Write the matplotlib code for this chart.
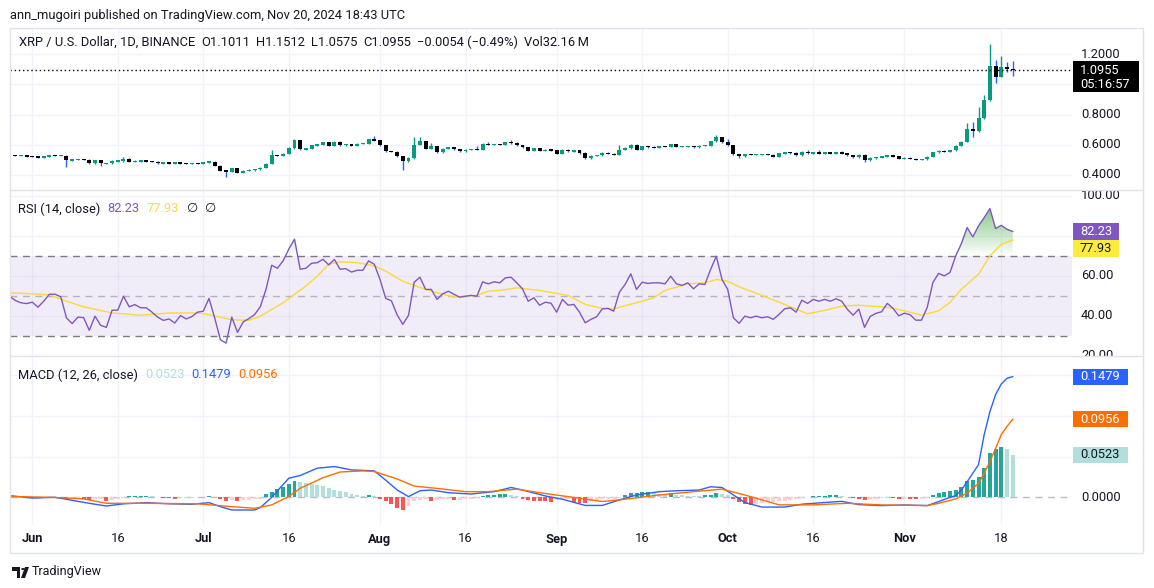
import numpy as np
import pandas as pd
import matplotlib
matplotlib.use('Agg')
import matplotlib.pyplot as plt
import matplotlib.dates as mdates
from matplotlib.patches import Rectangle, Polygon, Circle
from matplotlib.path import Path

plt.rcParams['font.family'] = ['Roboto', 'DejaVu Sans']

W, H = 1154, 588
FS = 9.3

# =========================== DATA (daily, 2024-05-28 .. 2024-11-20) ===========================
close_may = [0.528, 0.527, 0.527, 0.522]
close_jun = [0.520, 0.518, 0.522, 0.529, 0.527, 0.527, 0.496, 0.500, 0.501, 0.500,
             0.478, 0.496, 0.478, 0.478, 0.493, 0.493, 0.507, 0.489, 0.493, 0.493,
             0.490, 0.487, 0.478, 0.479, 0.478, 0.479, 0.478, 0.477, 0.478, 0.477]
close_jul = [0.484, 0.487, 0.462, 0.429, 0.422, 0.444, 0.416, 0.429, 0.433, 0.438,
             0.449, 0.476, 0.529, 0.527, 0.540, 0.578, 0.629, 0.571, 0.573, 0.596,
             0.600, 0.616, 0.593, 0.620, 0.596, 0.604, 0.593, 0.607, 0.608, 0.636, 0.629]
close_aug = [0.596, 0.556, 0.553, 0.523, 0.490, 0.512, 0.600, 0.622, 0.574, 0.589,
             0.550, 0.574, 0.582, 0.571, 0.556, 0.567, 0.569, 0.567, 0.607, 0.600,
             0.604, 0.600, 0.615, 0.611, 0.596, 0.582, 0.560, 0.576, 0.560, 0.567, 0.563]
close_sep = [0.540, 0.567, 0.556, 0.563, 0.545, 0.512, 0.527, 0.530, 0.545, 0.540,
             0.534, 0.567, 0.578, 0.600, 0.567, 0.589, 0.585, 0.582, 0.589, 0.587,
             0.604, 0.587, 0.587, 0.591, 0.585, 0.593, 0.593, 0.622, 0.648, 0.615]
close_oct = [0.596, 0.538, 0.523, 0.536, 0.534, 0.536, 0.536, 0.533, 0.522, 0.544,
             0.548, 0.546, 0.529, 0.553, 0.544, 0.547, 0.544, 0.549, 0.544, 0.549,
             0.544, 0.529, 0.518, 0.533, 0.496, 0.513, 0.518, 0.520, 0.529, 0.524, 0.507]
close_nov = [0.513, 0.507, 0.500, 0.503, 0.520, 0.549, 0.560, 0.553, 0.562, 0.593,
             0.619, 0.705, 0.690, 0.775, 0.896, 1.120, 1.050, 1.116, 1.1011, 1.0955]
first_open = 0.529

# notable wicks
wick_hi = {'2024-06-17': 0.518, '2024-07-13': 0.567, '2024-07-17': 0.640, '2024-07-31': 0.660,
           '2024-08-07': 0.648, '2024-08-08': 0.648, '2024-08-10': 0.611, '2024-08-18': 0.589,
           '2024-08-20': 0.617, '2024-08-24': 0.633, '2024-09-12': 0.596, '2024-09-29': 0.666,
           '2024-10-01': 0.640, '2024-10-15': 0.562, '2024-10-17': 0.567, '2024-10-21': 0.560,
           '2024-11-12': 0.742, '2024-11-13': 0.753, '2024-11-14': 0.848, '2024-11-15': 0.929,
           '2024-11-16': 1.266, '2024-11-17': 1.160, '2024-11-18': 1.187, '2024-11-19': 1.147,
           '2024-11-20': 1.1512}
wick_lo = {'2024-06-07': 0.456, '2024-06-13': 0.462, '2024-07-05': 0.384, '2024-07-07': 0.411,
           '2024-07-18': 0.562, '2024-08-05': 0.435, '2024-10-03': 0.512, '2024-10-25': 0.489,
           '2024-11-13': 0.648, '2024-11-17': 1.006, '2024-11-19': 1.080, '2024-11-20': 1.0575}

rsi_may = [49.8, 47.7, 46.5, 46.1]
rsi_jun = [46.8, 44.3, 47.3, 50.8, 50.8, 49.5, 38.9, 36.1, 39.3, 39.1,
           32.7, 39.8, 35.2, 34.2, 42.8, 42.8, 49.8, 44.5, 45.6, 44.0,
           44.0, 41.8, 39.3, 37.7, 38.4, 36.4, 40.1, 38.4, 39.6, 41.8]
rsi_jul = [42.3, 48.7, 38.9, 28.0, 26.3, 39.3, 31.7, 36.9, 38.6, 40.6,
           44.5, 53.2, 65.3, 63.8, 67.5, 73.4, 78.4, 63.3, 63.8, 66.3,
           66.6, 68.3, 65.5, 68.2, 63.3, 63.6, 61.9, 62.8, 62.8, 67.5, 65.8]
rsi_aug = [58.2, 48.7, 47.5, 40.5, 35.7, 40.2, 56.8, 59.3, 53.2, 53.2,
           48.2, 51.0, 52.3, 50.7, 49.3, 49.8, 50.2, 49.8, 57.0, 56.0,
           57.0, 56.5, 59.0, 59.3, 56.5, 53.5, 47.3, 49.0, 45.3, 46.8, 46.3]
rsi_sep = [41.8, 48.2, 45.3, 45.7, 41.8, 36.5, 38.2, 39.5, 43.5, 43.7,
           42.3, 51.8, 55.7, 61.0, 53.2, 56.8, 56.2, 56.5, 56.5, 56.0,
           59.8, 56.0, 55.2, 56.5, 53.5, 56.0, 55.7, 63.2, 69.8, 58.2]
rsi_oct = [53.2, 39.0, 36.2, 39.8, 39.0, 39.8, 39.0, 39.5, 38.2, 40.7,
           43.5, 44.0, 41.8, 47.8, 46.2, 48.2, 47.3, 48.2, 47.3, 48.5,
           47.3, 43.2, 40.3, 43.3, 34.2, 39.7, 41.2, 42.0, 46.2, 43.7, 40.0]
rsi_nov = [41.3, 40.5, 37.8, 37.8, 44.2, 56.7, 61.2, 60.0, 61.7, 70.0,
           76.2, 84.2, 79.5, 85.0, 89.2, 93.7, 83.7, 85.3, 83.3, 82.23]

rsi_ma_days = ['2024-05-28', '2024-06-01', '2024-06-04', '2024-06-07', '2024-06-10', '2024-06-15',
               '2024-06-20', '2024-06-25', '2024-06-30', '2024-07-02', '2024-07-06', '2024-07-09',
               '2024-07-11', '2024-07-15', '2024-07-19', '2024-07-21', '2024-07-23', '2024-07-25',
               '2024-07-28', '2024-07-31', '2024-08-02', '2024-08-05', '2024-08-07', '2024-08-10',
               '2024-08-14', '2024-08-18', '2024-08-20', '2024-08-22', '2024-08-25', '2024-08-29',
               '2024-09-03', '2024-09-06', '2024-09-09', '2024-09-11', '2024-09-16', '2024-09-18',
               '2024-09-20', '2024-09-24', '2024-09-27', '2024-09-29', '2024-10-01', '2024-10-03',
               '2024-10-07', '2024-10-12', '2024-10-15', '2024-10-18', '2024-10-21', '2024-10-24',
               '2024-10-29', '2024-11-01', '2024-11-04', '2024-11-07', '2024-11-09', '2024-11-11',
               '2024-11-14', '2024-11-16', '2024-11-18', '2024-11-20']
rsi_ma_vals = [51.5, 51.0, 50.5, 47.3, 44.5, 41.4, 40.3, 41.4, 41.4, 40.6, 38.0, 37.7,
               39.8, 46.5, 54.9, 59.9, 65.8, 67.0, 66.6, 65.0, 62.4, 57.3, 55.2, 52.3,
               49.3, 50.2, 52.3, 52.7, 54.0, 52.7, 50.2, 45.7, 43.7, 43.5, 47.3, 49.0,
               52.7, 56.0, 56.5, 58.2, 57.3, 54.5, 50.2, 44.5, 41.0, 42.7, 44.8, 45.3,
               44.2, 42.5, 40.3, 42.5, 46.7, 53.3, 60.8, 70.0, 75.8, 77.93]

macd_days = ['2024-05-28', '2024-06-01', '2024-06-05', '2024-06-09', '2024-06-11', '2024-06-14',
             '2024-06-17', '2024-06-21', '2024-06-25', '2024-06-29', '2024-07-02', '2024-07-04',
             '2024-07-06', '2024-07-10', '2024-07-11', '2024-07-13', '2024-07-16', '2024-07-18',
             '2024-07-21', '2024-07-24', '2024-07-27', '2024-07-31', '2024-08-02', '2024-08-04',
             '2024-08-06', '2024-08-08', '2024-08-10', '2024-08-13', '2024-08-17', '2024-08-21',
             '2024-08-24', '2024-08-26', '2024-08-30', '2024-09-02', '2024-09-06', '2024-09-09',
             '2024-09-12', '2024-09-15', '2024-09-19', '2024-09-22', '2024-09-26', '2024-09-28',
             '2024-09-30', '2024-10-02', '2024-10-04', '2024-10-07', '2024-10-11', '2024-10-14',
             '2024-10-18', '2024-10-21', '2024-10-24', '2024-10-28', '2024-11-01', '2024-11-05',
             '2024-11-07', '2024-11-09', '2024-11-10', '2024-11-11', '2024-11-12', '2024-11-13',
             '2024-11-14', '2024-11-15', '2024-11-16', '2024-11-17', '2024-11-18', '2024-11-19',
             '2024-11-20']
macd_vals = [0.002, -0.001, 0.0, -0.005, -0.0074, -0.0107, -0.008, -0.0066, -0.008, -0.0086,
             -0.0066, -0.0115, -0.0156, -0.0156, -0.0127, 0.0, 0.0234, 0.0267, 0.0357, 0.0377,
             0.0336, 0.0324, 0.021, 0.009, 0.0008, 0.008, 0.0089, 0.0056, 0.004, 0.0069,
             0.012, 0.0089, 0.0016, -0.0024, -0.010, -0.010, -0.0032, 0.0028, 0.0069, 0.008,
             0.0089, 0.0129, 0.012, 0.0028, -0.0064, -0.012, -0.012, -0.0085, -0.0064, -0.005,
             -0.009, -0.0102, -0.0094, -0.0102, -0.0053, 0.0, 0.002, 0.009, 0.019, 0.0295,
             0.040, 0.077, 0.105, 0.126, 0.139, 0.146, 0.1479]

signal_days = ['2024-05-28', '2024-06-04', '2024-06-10', '2024-06-14', '2024-06-21', '2024-06-30',
               '2024-07-06', '2024-07-10', '2024-07-13', '2024-07-16', '2024-07-18', '2024-07-22',
               '2024-07-25', '2024-07-29', '2024-07-31', '2024-08-04', '2024-08-07', '2024-08-11',
               '2024-08-16', '2024-08-20', '2024-08-25', '2024-08-29', '2024-09-03', '2024-09-09',
               '2024-09-13', '2024-09-19', '2024-09-25', '2024-09-30', '2024-10-04', '2024-10-10',
               '2024-10-16', '2024-10-22', '2024-10-28', '2024-11-05', '2024-11-07', '2024-11-10',
               '2024-11-12', '2024-11-14', '2024-11-15', '2024-11-16', '2024-11-17', '2024-11-18',
               '2024-11-19', '2024-11-20']
signal_vals = [0.001, 0.0, -0.002, -0.0074, -0.0074, -0.008, -0.0115, -0.0135, -0.0094, 0.001,
               0.011, 0.024, 0.031, 0.0324, 0.0316, 0.0225, 0.0137, 0.0109, 0.0069, 0.0069,
               0.010, 0.0056, 0.0008, -0.0052, -0.0024, 0.0028, 0.0069, 0.010, 0.0028, -0.0093,
               -0.0093, -0.0074, -0.0094, -0.0102, -0.0074, -0.002, 0.005, 0.017, 0.0295, 0.044,
               0.060, 0.077, 0.087, 0.0956]

hist_may = [0.0005, 0.0004, 0.0002, -0.0002]
hist_jun = [-0.0004, 0.0002, 0.0004, 0.0004, 0.0002, -0.0003, -0.002, -0.002, -0.002, -0.0025,
            -0.003, -0.0025, -0.002, -0.004, -0.003, -0.002, -0.0005, 0.001, 0.0012, 0.0013,
            0.0014, 0.001, 0.0005, -0.0008, -0.0012, -0.0015, -0.0008, -0.0005, -0.0003, 0.0003]
hist_jul = [0.0008, 0.001, 0.0005, -0.0016, -0.004, -0.003, -0.004, -0.003, -0.0028, -0.0025,
            -0.002, 0.0037, 0.007, 0.0098, 0.012, 0.016, 0.020, 0.019, 0.017, 0.016,
            0.015, 0.014, 0.011, 0.009, 0.0078, 0.006, 0.0037, 0.003, 0.002, 0.0025, 0.001]
hist_aug = [-0.002, -0.0045, -0.0086, -0.013, -0.016, -0.0105, -0.0044, -0.0032, -0.0024, -0.0044,
            -0.0032, -0.0024, -0.002, -0.0032, -0.0028, -0.0024, -0.0016, -0.0004, 0.0016, 0.0028,
            0.003, 0.004, 0.0042, 0.0028, 0.0016, -0.0016, -0.0032, -0.004, -0.0042, -0.0044, -0.0052]
hist_sep = [-0.0032, -0.0024, -0.0022, -0.0064, -0.0066, -0.0068, -0.004, -0.0032, -0.0024, -0.002,
            -0.0016, -0.0008, 0.0028, 0.0048, 0.0056, 0.0064, 0.0066, 0.0048, 0.004, 0.0028,
            0.0048, 0.0032, 0.0024, 0.002, 0.0016, 0.0014, 0.0024, 0.0032, 0.0048, 0.004]
hist_oct = [0.0024, -0.0024, -0.0052, -0.008, -0.0093, -0.008, -0.0072, -0.0064, -0.0052, -0.0048,
            -0.0044, -0.0032, -0.0016, -0.0012, 0.0008, 0.0016, 0.002, 0.0021, 0.0022, 0.0024,
            0.0016, 0.0008, -0.001, -0.0015, -0.003, -0.002, -0.0015, -0.001, -0.0005, -0.001, -0.0018]
hist_nov = [-0.0015, -0.0018, -0.0022, -0.0015, -0.0005, 0.003, 0.0057, 0.007, 0.0078, 0.0094,
            0.0127, 0.020, 0.0213, 0.0254, 0.0357, 0.054, 0.059, 0.062, 0.059, 0.0523]

tick_days = ['2024-06-01', '2024-06-16', '2024-07-01', '2024-07-16', '2024-08-01', '2024-08-16',
             '2024-09-01', '2024-09-16', '2024-10-01', '2024-10-16', '2024-11-01', '2024-11-18']
tick_labels = ['Jun', '16', 'Jul', '16', 'Aug', '16', 'Sep', '16', 'Oct', '16', 'Nov', '18']

# grid levels; labels only where the right scale is not covered by a value tag
price_ticks = [0.4, 0.6, 0.8, 1.0, 1.2]
price_labels = [0.4, 0.6, 0.8, 1.2]
rsi_ticks = [20, 40, 60, 80, 100]
rsi_labels = [20, 40, 60, 100]
macd_ticks = [0.05, 0.10, 0.15]
macd_labels = [0.0]

# =========================== PREP ===========================
dates = pd.date_range('2024-05-28', '2024-11-20', freq='D')
xd = mdates.date2num(dates)
close = np.array(close_may + close_jun + close_jul + close_aug + close_sep + close_oct + close_nov)
opens = np.concatenate([[first_open], close[:-1]])
rsi = np.array(rsi_may + rsi_jun + rsi_jul + rsi_aug + rsi_sep + rsi_oct + rsi_nov)
hist = np.array(hist_may + hist_jun + hist_jul + hist_aug + hist_sep + hist_oct + hist_nov)

keys = dates.strftime('%Y-%m-%d')
highs = np.array([wick_hi.get(k, max(o, c) + 0.004) for k, o, c in zip(keys, opens, close)])
lows = np.array([wick_lo.get(k, min(o, c) - 0.004) for k, o, c in zip(keys, opens, close)])

UP, DOWN, DWICK = '#089981', '#000000', '#2962ff'
GRID, FRAME, TXT = '#f0f3fa', '#e0e3eb', '#131722'

# =========================== FIGURE ===========================
fig = plt.figure(figsize=(W / 100, H / 100), dpi=100)
fig.patch.set_facecolor('white')
renderer = fig.canvas.get_renderer()


def pane(x0, y0, x1, y1):
    ax = fig.add_axes([x0 / W, 1 - y1 / H, (x1 - x0) / W, (y1 - y0) / H])
    ax.set_axis_off()
    return ax


ax_p = pane(10, 28, 1072, 190)
ax_r = pane(10, 190, 1072, 356)
ax_m = pane(10, 356, 1072, 525)
lab_p = pane(1072, 28, 1143, 190)
lab_r = pane(1072, 190, 1143, 356)
lab_m = pane(1072, 356, 1143, 525)

x_jun1 = mdates.date2num(pd.Timestamp('2024-06-01'))
xlim = (x_jun1 - 3.91, x_jun1 + 182.4)
ylims = {ax_p: (0.3008, 1.372), ax_r: (19.85, 103.0), ax_m: (-0.034, 0.1733)}
for ax, lab in ((ax_p, lab_p), (ax_r, lab_r), (ax_m, lab_m)):
    ax.set_xlim(xlim)
    ax.set_ylim(ylims[ax])
    lab.set_xlim(0, 1)
    lab.set_ylim(ylims[ax])
    for t in tick_days:
        ax.axvline(mdates.date2num(pd.Timestamp(t)), color=GRID, lw=1, zorder=0)

# ---------- price pane ----------
for v in price_ticks:
    ax_p.axhline(v, color=GRID, lw=1, zorder=0)
for v in price_labels:
    lab_p.text(0.127, v, f'{v:.4f}', fontsize=FS, color=TXT, va='center', clip_on=True)

up = close >= opens
body_lo = np.minimum(opens, close)
body_h = np.abs(close - opens)
min_h = 0.009
body_lo = np.where(body_h < min_h, (opens + close) / 2 - min_h / 2, body_lo)
body_h = np.maximum(body_h, min_h)
ax_p.vlines(xd, lows, highs, colors=np.where(up, UP, DWICK), lw=1, zorder=2)
ax_p.bar(xd, body_h, bottom=body_lo, width=0.7, color=np.where(up, UP, DOWN), lw=0, zorder=3)
ax_p.axhline(close[-1], color='#000000', lw=1, ls=(0, (1, 2)), zorder=4)

# ---------- RSI pane ----------
for v in rsi_ticks:
    ax_r.axhline(v, color=GRID, lw=1, zorder=0)
for v in rsi_labels:
    lab_r.text(0.127, v, f'{v:.2f}', fontsize=FS, color=TXT, va='center', clip_on=True)
ax_r.axhspan(30, 70, color='#7e57c2', alpha=0.1, lw=0, zorder=1)
ax_r.axhline(70, color='#787b86', lw=1, ls=(0, (5, 4)), zorder=2)
ax_r.axhline(30, color='#787b86', lw=1, ls=(0, (5, 4)), zorder=2)
ax_r.axhline(50, color='#787b86', alpha=0.5, lw=1, ls=(0, (5, 4)), zorder=2)

fb = ax_r.fill_between(xd, rsi, 70, where=rsi > 70, interpolate=True, color='none', lw=0)
grad = np.zeros((256, 1, 4))
grad[..., 0], grad[..., 1], grad[..., 2] = 76 / 255, 175 / 255, 80 / 255
grad[:, 0, 3] = np.linspace(0.0, 0.85, 256)
im = ax_r.imshow(grad, extent=(xlim[0], xlim[1], 70, 100), origin='lower', aspect='auto', zorder=2)
im.set_clip_path(Path.make_compound_path(*fb.get_paths()), ax_r.transData)
ax_r.set_xlim(xlim)
ax_r.set_ylim(ylims[ax_r])

ax_r.plot(mdates.date2num(pd.to_datetime(rsi_ma_days)), rsi_ma_vals, color='#fdd835', lw=1, zorder=3)
ax_r.plot(xd, rsi, color='#7e57c2', lw=1, zorder=4)

# ---------- MACD pane ----------
for v in macd_ticks:
    ax_m.axhline(v, color=GRID, lw=1, zorder=0)
for v in macd_labels:
    lab_m.text(0.127, v, f'{v:.4f}', fontsize=FS, color=TXT, va='center', clip_on=True)
ax_m.axhline(0, color='#787b86', alpha=0.5, lw=1, ls=(0, (5, 4)), zorder=1)

prev = np.concatenate([[hist[0]], hist[:-1]])
hcol = np.where(hist >= 0,
                np.where(hist > prev, '#26a69a', '#b2dfdb'),
                np.where(hist < prev, '#ff5252', '#ffcdd2'))
ax_m.bar(xd, hist, width=0.7, color=hcol, lw=0, zorder=2)
ax_m.plot(mdates.date2num(pd.to_datetime(macd_days)), macd_vals, color='#2962ff', lw=1, zorder=3)
ax_m.plot(mdates.date2num(pd.to_datetime(signal_days)), signal_vals, color='#ff6d00', lw=1, zorder=4)

# ---------- frame and separators ----------
fig.add_artist(Rectangle((10 / W, 1 - 553 / H), 1133 / W, 525 / H, transform=fig.transFigure,
                         fill=False, edgecolor=FRAME, lw=1, zorder=1))
for yy in (190, 356):
    fig.add_artist(plt.Line2D([10 / W, 1143 / W], [1 - yy / H, 1 - yy / H],
                              transform=fig.transFigure, color=FRAME, lw=1, zorder=1))


# ---------- value tags on the right scale ----------
def val_px(ax, v):
    return H - ax.transData.transform((xlim[0], v))[1]


def tag(y_top, y_bot, x_right, fc):
    fig.add_artist(Rectangle((1072.7 / W, 1 - y_bot / H), (x_right - 1072.7) / W, (y_bot - y_top) / H,
                             transform=fig.transFigure, facecolor=fc, edgecolor='none', zorder=5))


def tag_text(yc, s, col):
    fig.text(1080 / W, 1 - yc / H, s, fontsize=FS, color=col, va='center', ha='left', zorder=6)


yc = val_px(ax_p, close[-1])
tag(yc - 8.5, yc + 22.5, 1138.7, '#000000')
tag_text(yc + 1, f'{close[-1]:.4f}', 'white')
tag_text(yc + 14.5, '05:16:57', 'white')

yc1 = val_px(ax_r, rsi[-1])
tag(yc1 - 8, yc1 + 8.5, 1119.3, '#7e57c2')
tag_text(yc1 + 0.5, f'{rsi[-1]:.2f}', 'white')
yc2 = yc1 + 17
tag(yc2 - 8.5, yc2 + 8.5, 1119.3, '#ffeb3b')
tag_text(yc2, f'{rsi_ma_vals[-1]:.2f}', TXT)

for v, fc, tc in ((macd_vals[-1], '#2962ff', 'white'), (signal_vals[-1], '#ff6d00', 'white'),
                  (hist[-1], '#b2dfdb', TXT)):
    y = val_px(ax_m, v)
    tag(y - 8, y + 8, 1127.7, fc)
    tag_text(y, f'{v:.4f}', tc)


# ---------- texts ----------
def ftext(x, y, s, **kw):
    return fig.text(x / W, 1 - y / H, s, fontsize=kw.pop('fontsize', FS), va='center', **kw)


def text_row(x, y, items, gap):
    # lay pieces out left to right, each after the previous one's width
    for s, col in items:
        t = ftext(x, y, s, color=col)
        x += t.get_window_extent(renderer).width + gap


ftext(10, 15, 'ann_mugoiri published on TradingView.com, Nov 20, 2024 18:43 UTC', color=TXT)
text_row(19, 42, [('XRP / U.S. Dollar, 1D, BINANCE', TXT), ('O1.1011', TXT), ('H1.1512', TXT),
                  ('L1.0575', TXT), ('C1.0955', TXT), ('\u22120.0054 (\u22120.49%)', TXT),
                  ('Vol32.16\u2009M', TXT)], 6)
text_row(18, 209, [('RSI (14, close)', TXT), (f'{rsi[-1]:.2f}', '#7e57c2'),
                   (f'{rsi_ma_vals[-1]:.2f}', '#fdd835'), ('\u2205', TXT), ('\u2205', TXT)], 7)
text_row(18, 375, [('MACD (12, 26, close)', TXT), (f'{hist[-1]:.4f}', '#b2dfdb'),
                   (f'{macd_vals[-1]:.4f}', '#2962ff'), (f'{signal_vals[-1]:.4f}', '#ff6d00')], 7)

for t, lbl in zip(tick_days, tick_labels):
    xp = ax_m.transData.transform((mdates.date2num(pd.Timestamp(t)), 0))[0]
    fig.text(xp / W, 1 - 539 / H, lbl, fontsize=FS, color=TXT, ha='center', va='center',
             fontweight='bold' if lbl.isalpha() else 'normal')

# TradingView footer logo
fig.add_artist(Rectangle((12 / W, 1 - 571 / H), 8 / W, 4 / H, transform=fig.transFigure,
                         facecolor=TXT, edgecolor='none'))
fig.add_artist(Rectangle((16.5 / W, 1 - 578 / H), 3.5 / W, 11 / H, transform=fig.transFigure,
                         facecolor=TXT, edgecolor='none'))
fig.add_artist(Circle((23 / W, 1 - 569 / H), 1.9 / W, transform=fig.transFigure,
                      facecolor=TXT, edgecolor='none'))
fig.add_artist(Polygon([(25 / W, 1 - 567 / H), (29 / W, 1 - 567 / H), (25 / W, 1 - 578 / H),
                        (21 / W, 1 - 578 / H)], closed=True, transform=fig.transFigure,
                       facecolor=TXT, edgecolor='none'))
ftext(32, 572, 'TradingView', color=TXT, fontsize=9)

fig.savefig('out.png', dpi=100, facecolor='white')
